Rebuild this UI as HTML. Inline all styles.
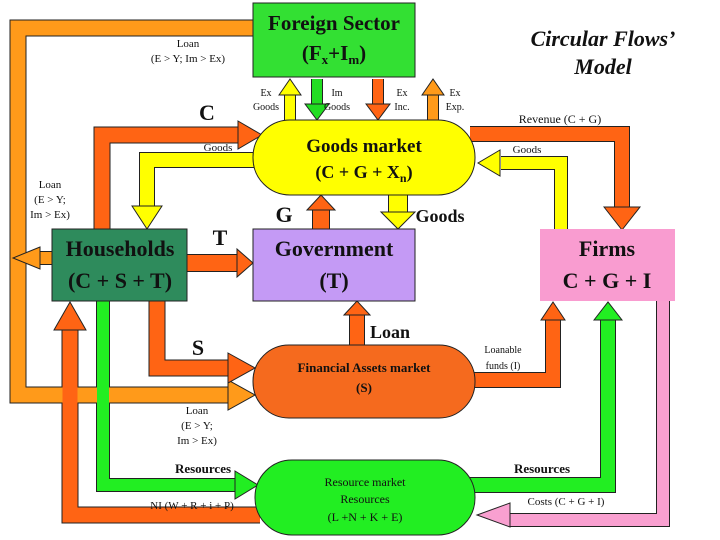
<!DOCTYPE html>
<html><head><meta charset="utf-8"><style>
html,body{margin:0;padding:0;background:#fff;}
svg{display:block;}
text{font-family:"Liberation Serif",serif;text-anchor:middle;fill:#111;}
.b{font-weight:bold;}
</style></head><body>
<svg width="720" height="540" viewBox="0 0 720 540" xmlns="http://www.w3.org/2000/svg">
<g fill="none" stroke-linejoin="miter" stroke-linecap="butt">
<g stroke="#222">
<path d="M253,28 H18 V395 H229" stroke-width="17"/>
<path d="M52,258 H38" stroke-width="14"/>
<path d="M102,229 V135 H239" stroke-width="17"/>
<path d="M262,160 H147 V207" stroke-width="16"/>
<path d="M290,120 V94" stroke-width="12"/>
<path d="M317,79 V104" stroke-width="12"/>
<path d="M378,79 V104" stroke-width="12"/>
<path d="M433,120 V94" stroke-width="12"/>
<path d="M470,134 H622 V208" stroke-width="16"/>
<path d="M561,229 V163 H501" stroke-width="14"/>
<path d="M321,229 V209" stroke-width="18"/>
<path d="M398,195 V213" stroke-width="20"/>
<path d="M187,263 H238" stroke-width="18"/>
<path d="M157,301 V368 H229" stroke-width="17"/>
<path d="M357,345 V314" stroke-width="16"/>
<path d="M470,380 H553 V319" stroke-width="16"/>
<path d="M103,301 V485 H236" stroke-width="14"/>
<path d="M260,515 H70 V329" stroke-width="17"/>
<path d="M470,485 H608 V319" stroke-width="16"/>
<path d="M663,301 V520 H509" stroke-width="14"/>
</g>
<path d="M253,28 H18 V395 H229" stroke="#ff9a1a" stroke-width="15"/>
<path d="M52,258 H38" stroke="#ff9a1a" stroke-width="12"/>
<path d="M102,229 V135 H239" stroke="#ff6414" stroke-width="15"/>
<path d="M262,160 H147 V207" stroke="#ffff00" stroke-width="14"/>
<path d="M290,120 V94" stroke="#ffff00" stroke-width="10"/>
<path d="M317,79 V104" stroke="#22dd22" stroke-width="10"/>
<path d="M378,79 V104" stroke="#ff6414" stroke-width="10"/>
<path d="M433,120 V94" stroke="#ff9a1a" stroke-width="10"/>
<path d="M470,134 H622 V208" stroke="#ff6414" stroke-width="14"/>
<path d="M561,229 V163 H501" stroke="#ffff00" stroke-width="12"/>
<path d="M321,229 V209" stroke="#ff6414" stroke-width="16"/>
<path d="M398,195 V213" stroke="#ffff00" stroke-width="18"/>
<path d="M187,263 H238" stroke="#ff6414" stroke-width="16"/>
<path d="M157,301 V368 H229" stroke="#ff6414" stroke-width="15"/>
<path d="M357,345 V314" stroke="#ff6414" stroke-width="14"/>
<path d="M470,380 H553 V319" stroke="#ff6414" stroke-width="14"/>
<path d="M103,301 V485 H236" stroke="#22ee22" stroke-width="12"/>
<path d="M260,515 H70 V329" stroke="#ff6414" stroke-width="15"/>
<path d="M470,485 H608 V319" stroke="#22ee22" stroke-width="14"/>
<path d="M663,301 V520 H509" stroke="#f9a0d0" stroke-width="12"/>
</g>
<g stroke="#222" stroke-width="1">
<polygon points="228,380 255,395 228,410" fill="#ff9a1a"/>
<polygon points="40,247 13,258 40,269" fill="#ff9a1a"/>
<polygon points="238,121 262,135 238,149" fill="#ff6414"/>
<polygon points="132,206 147,229 162,206" fill="#ffff00"/>
<polygon points="279,95 290,79 301,95" fill="#ffff00"/>
<polygon points="305,104 317,120 329,104" fill="#22dd22"/>
<polygon points="366,104 378,120 390,104" fill="#ff6414"/>
<polygon points="422,95 433,79 444,95" fill="#ff9a1a"/>
<polygon points="604,207 622,230 640,207" fill="#ff6414"/>
<polygon points="500,150 478,163 500,176" fill="#ffff00"/>
<polygon points="307,210 321,195 335,210" fill="#ff6414"/>
<polygon points="381,212 398,229 415,212" fill="#ffff00"/>
<polygon points="237,249 253,263 237,277" fill="#ff6414"/>
<polygon points="228,353 255,368 228,383" fill="#ff6414"/>
<polygon points="344,315 357,301 370,315" fill="#ff6414"/>
<polygon points="541,320 553,302 565,320" fill="#ff6414"/>
<polygon points="235,471 258,485 235,499" fill="#22ee22"/>
<polygon points="54,330 70,302 86,330" fill="#ff6414"/>
<polygon points="594,320 608,302 622,320" fill="#22ee22"/>
<polygon points="510,503 477,515 510,527" fill="#f9a0d0"/>
</g>
<rect x="253" y="3" width="162" height="74" fill="#33e033" stroke="#222"/>
<rect x="253" y="120" width="222" height="75" rx="37" fill="#ffff00" stroke="#222"/>
<rect x="52" y="229" width="135" height="72" fill="#2e8b5c" stroke="#222"/>
<rect x="253" y="229" width="162" height="72" fill="#c49af5" stroke="#222"/>
<rect x="540" y="229" width="135" height="72" fill="#f99cd0"/>
<rect x="253" y="345" width="222" height="73" rx="36" fill="#f56a1e" stroke="#222"/>
<rect x="255" y="460" width="220" height="75" rx="37" fill="#22ee22" stroke="#222"/>
<text x="334" y="30" class="b" font-size="21">Foreign Sector</text>
<text x="334" y="60" class="b" font-size="21">(F<tspan font-size="13" dy="4">x</tspan><tspan dy="-4">+I</tspan><tspan font-size="13" dy="4">m</tspan><tspan dy="-4">)</tspan></text>
<text x="364" y="152" class="b" font-size="19">Goods market</text>
<text x="364" y="178" class="b" font-size="18">(C + G + X<tspan font-size="12" dy="4">n</tspan><tspan dy="-4">)</tspan></text>
<text x="120" y="256" class="b" font-size="22">Households</text>
<text x="120" y="288" class="b" font-size="22">(C + S + T)</text>
<text x="334" y="256" class="b" font-size="22" fill="#1a1a55">Government</text>
<text x="334" y="288" class="b" font-size="22" fill="#1a1a55">(T)</text>
<text x="607" y="256" class="b" font-size="22">Firms</text>
<text x="607" y="288" class="b" font-size="22">C + G + I</text>
<text x="364" y="372" class="b" font-size="13">Financial Assets market</text>
<text x="364" y="392" class="b" font-size="13">(S)</text>
<text x="365" y="486" font-size="12" fill="#1a4a1a">Resource market</text>
<text x="365" y="503" font-size="12" fill="#1a4a1a">Resources</text>
<text x="365" y="521" font-size="12" fill="#1a4a1a">(L +N + K + E)</text>
<text x="603" y="46" class="b" font-size="22" font-style="italic" fill="#1a2050">Circular Flows’</text>
<text x="603" y="74" class="b" font-size="22" font-style="italic" fill="#1a2050">Model</text>
<g font-size="11">
<text x="188" y="47">Loan</text><text x="188" y="62">(E &gt; Y; Im &gt; Ex)</text>
<text x="50" y="188">Loan</text><text x="50" y="203">(E &gt; Y;</text><text x="50" y="218">Im &gt; Ex)</text>
<text x="197" y="414">Loan</text><text x="197" y="429">(E &gt; Y;</text><text x="197" y="444">Im &gt; Ex)</text>
<text x="218" y="151">Goods</text>
<text x="527" y="153">Goods</text>
<text x="560" y="123" font-size="12">Revenue (C + G)</text>
<text x="503" y="353" font-size="10">Loanable</text><text x="503" y="369" font-size="10">funds (I)</text>
<text x="192" y="509">NI (W + R + i + P)</text>
<text x="566" y="505">Costs (C + G + I)</text>
<text x="203" y="473" font-size="13" class="b">Resources</text>
<text x="542" y="473" font-size="13" class="b">Resources</text>
</g>
<g font-size="10">
<text x="266" y="96">Ex</text><text x="266" y="110">Goods</text>
<text x="337" y="96">Im</text><text x="337" y="110">Goods</text>
<text x="402" y="96">Ex</text><text x="402" y="110">Inc.</text>
<text x="455" y="96">Ex</text><text x="455" y="110">Exp.</text>
</g>
<text x="207" y="120" font-size="22" class="b">C</text>
<text x="284" y="222" font-size="22" class="b">G</text>
<text x="440" y="222" font-size="18" class="b">Goods</text>
<text x="220" y="245" font-size="22" class="b">T</text>
<text x="198" y="355" font-size="22" class="b">S</text>
<text x="390" y="338" font-size="18" class="b">Loan</text>
</svg>
</body></html>
